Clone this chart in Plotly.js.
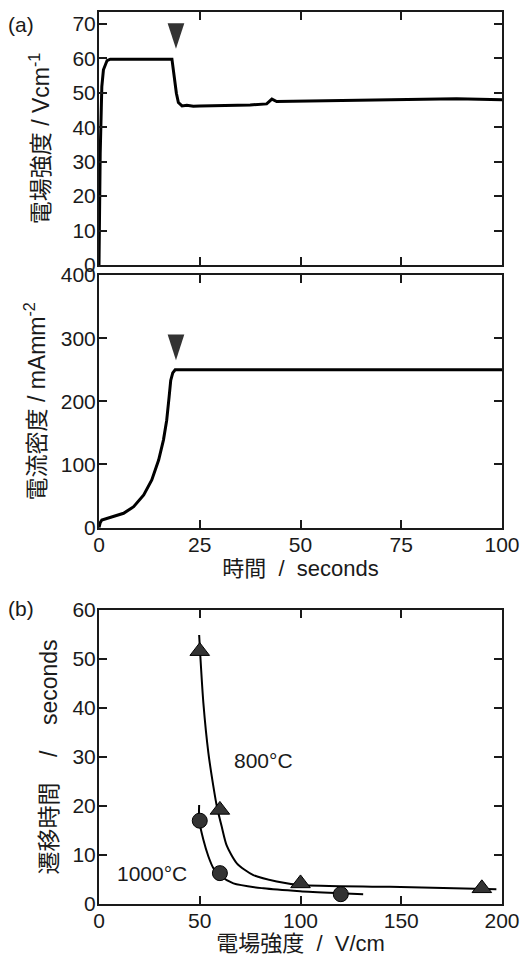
<!DOCTYPE html>
<html>
<head>
<meta charset="utf-8">
<script src="https://cdn.plot.ly/plotly-3.0.1.min.js"></script>
<style>html,body{margin:0;padding:0;background:#fff;}#chart{width:522px;height:956px;}</style>
</head>
<body>
<div id="chart"></div>
<script>
// (a) top: electric field vs time
const timeE = [0, 0.3, 0.7, 1.1, 2.0, 2.8, 18.1, 18.5, 19.2, 19.7, 20.6, 21.8, 23.4, 25, 30, 37.5, 41.6, 42.9, 44.1, 50, 60, 74.6, 88.7, 100];
const fieldE = [0, 32.5, 51.8, 56.7, 59.4, 59.8, 59.8, 55.7, 49.9, 47.2, 46.2, 46.4, 46.1, 46.2, 46.3, 46.5, 46.8, 48.2, 47.5, 47.6, 47.8, 48.0, 48.3, 48.0];
// (a) middle: current density vs time
const timeJ = [0, 0.3, 0.7, 2.8, 6.1, 8.6, 11.1, 13.1, 14.8, 16.0, 16.8, 17.4, 17.8, 18.3, 18.9, 100];
const currentJ = [0, 8, 12.2, 16.5, 22.8, 33.2, 51.7, 75.5, 107, 139, 170, 207, 233, 245, 250, 250];
// (b) fitted curves
const fit800x = [49.7, 50.2, 51.8, 54.3, 56.8, 58.5, 60.9, 63.4, 68.4, 76.6, 88.2, 99.8, 144.4, 197.2];
const fit800y = [54.9, 51.2, 41, 30.8, 23.9, 19.9, 15.8, 11.9, 8.3, 5.9, 4.6, 3.9, 3.5, 3.0];
const fit1000x = [49.7, 49.7, 51.8, 54.3, 56.8, 59.8, 66.7, 81.6, 99.8, 119.6, 131.1];
const fit1000y = [20.2, 17.1, 13.1, 9.7, 7.3, 5.9, 4.2, 3.2, 2.6, 2.2, 2.0];
// (b) measured points
const pts800x = [50, 60, 100, 190];
const pts800y = [51.6, 19.2, 4.2, 3.2];
const pts1000x = [50, 60, 120];
const pts1000y = [17, 6.3, 2.0];
// arrow marks (transition time), tip positions
const arrowT = [19.1];
const arrowE = [62.8];
const arrowJ = [265];

const FONT = 'Liberation Sans, Arial, Noto Sans CJK JP, sans-serif';
const INK = '#1a1a1a';
const SP = '\u00a0';

const arrowMarker = {symbol: 'arrow', size: 27, angle: 180, color: '#333', line: {width: 0}};

const traces = [
  {x: timeE, y: fieldE, xaxis: 'x', yaxis: 'y', mode: 'lines', line: {color: '#000', width: 3}, hoverinfo: 'none'},
  {x: timeJ, y: currentJ, xaxis: 'x2', yaxis: 'y2', mode: 'lines', line: {color: '#000', width: 3}, hoverinfo: 'none'},
  {x: arrowT, y: arrowE, xaxis: 'x', yaxis: 'y', mode: 'markers', marker: arrowMarker, cliponaxis: false},
  {x: arrowT, y: arrowJ, xaxis: 'x2', yaxis: 'y2', mode: 'markers', marker: arrowMarker, cliponaxis: false},
  {x: fit800x, y: fit800y, xaxis: 'x3', yaxis: 'y3', mode: 'lines', line: {color: '#000', width: 2, shape: 'spline', smoothing: 0.7}, hoverinfo: 'none'},
  {x: fit1000x, y: fit1000y, xaxis: 'x3', yaxis: 'y3', mode: 'lines', line: {color: '#000', width: 2, shape: 'spline', smoothing: 0.7}, hoverinfo: 'none'},
  {x: pts800x, y: pts800y, xaxis: 'x3', yaxis: 'y3', mode: 'markers',
   marker: {symbol: 'triangle-up', size: 17, color: '#333', line: {color: '#000', width: 1}}},
  {x: pts1000x, y: pts1000y, xaxis: 'x3', yaxis: 'y3', mode: 'markers',
   marker: {symbol: 'circle', size: 15, color: '#333', line: {color: '#000', width: 1}}}
];

function ax(extra) {
  return Object.assign({
    showline: true, linecolor: INK, linewidth: 2, mirror: 'ticks',
    ticks: 'inside', ticklen: 8, tickwidth: 2, tickcolor: INK,
    showgrid: false, zeroline: false,
    tickfont: {family: FONT, size: 21, color: INK}
  }, extra);
}
const xTitleFont = {family: FONT, size: 22, color: INK};
const yTitleFont = {family: FONT, size: 23, color: INK};

const annotations = [
  {xref: 'x3', yref: 'y3', x: 81.6, y: 29.2, text: '800°C', showarrow: false, font: {family: FONT, size: 21, color: INK}},
  {xref: 'x3', yref: 'y3', x: 26.2, y: 6.2, text: '1000°C', showarrow: false, font: {family: FONT, size: 21, color: INK}},
  {xref: 'paper', yref: 'paper', x: -0.1925, y: 0.9865, xanchor: 'center', yanchor: 'middle', text: '(a)', showarrow: false, font: {family: FONT, size: 21, color: INK}},
  {xref: 'paper', yref: 'paper', x: -0.1925, y: 0.3318, xanchor: 'center', yanchor: 'middle', text: '(b)', showarrow: false, font: {family: FONT, size: 21, color: INK}}
];

const layout = {
  width: 522, height: 956,
  margin: {l: 98.7, r: 19.7, t: 12, b: 52, pad: 0},
  paper_bgcolor: '#fff', plot_bgcolor: '#fff',
  showlegend: false,
  font: {family: FONT, color: INK},
  xaxis: ax({domain: [0, 1], anchor: 'y', range: [0, 100], tickvals: [0, 25, 50, 75, 100], showticklabels: false}),
  yaxis: ax({domain: [0.7164, 1], anchor: 'x', range: [0, 73.5], tickvals: [0, 10, 20, 30, 40, 50, 60, 70], ticklabelstandoff: -3,
    title: {text: '電場強度' + SP + '/' + SP + 'Vcm<sup>-1</sup>', font: yTitleFont, standoff: 16}}),
  xaxis2: ax({domain: [0, 1], anchor: 'y2', range: [0, 100], tickvals: [0, 25, 50, 75, 100], ticklabelstandoff: -3,
    title: {text: '時間' + SP + SP + '/' + SP + SP + 'seconds', font: xTitleFont, standoff: 0}}),
  yaxis2: ax({domain: [0.4219, 0.7052], anchor: 'x2', range: [0, 400], tickvals: [0, 100, 200, 300, 400], ticklabelstandoff: -3,
    title: {text: '電流密度' + SP + '/' + SP + 'mAmm<sup>-2</sup>', font: yTitleFont, standoff: 9}}),
  xaxis3: ax({domain: [0, 1], anchor: 'y3', range: [0, 200], tickvals: [0, 50, 100, 150, 200], ticklabelstandoff: -3,
    title: {text: '電場強度' + SP + SP + '/' + SP + SP + 'V/cm', font: xTitleFont, standoff: 4}}),
  yaxis3: ax({domain: [0, 0.3296], anchor: 'x3', range: [0, 60], tickvals: [0, 10, 20, 30, 40, 50, 60], ticklabelstandoff: -3,
    title: {text: '遷移時間' + SP + SP + SP + SP + '/' + SP + SP + SP + SP + 'seconds', font: yTitleFont, standoff: 8}}),
  annotations: annotations
};

Plotly.newPlot('chart', traces, layout, {staticPlot: true, displayModeBar: false});
</script>
</body>
</html>
